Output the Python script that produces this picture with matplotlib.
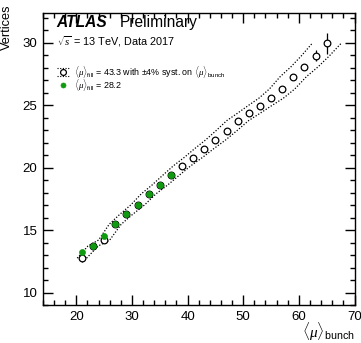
import matplotlib
matplotlib.use("Agg")
import matplotlib.pyplot as plt
from matplotlib.lines import Line2D
from matplotlib.ticker import MultipleLocator
import numpy as np

plt.rcParams['font.family'] = ['Liberation Sans', 'DejaVu Sans']
plt.rcParams['mathtext.fontset'] = 'custom'
plt.rcParams['mathtext.rm'] = 'Liberation Sans'
plt.rcParams['mathtext.it'] = 'Liberation Serif:italic'
plt.rcParams['mathtext.bf'] = 'Liberation Sans:bold'

# High-pileup fill: <mu>_fill = 43.3
mu_high = [21, 23, 25, 27, 29, 31, 33, 35, 37, 39, 41, 43, 45, 47, 49, 51,
           53, 55, 57, 59, 61, 63, 65]
vtx_high = [12.75, 13.72, 14.2, 15.47, 16.27, 17.0, 17.9, 18.6, 19.38, 20.14,
            20.8, 21.52, 22.2, 22.96, 23.76, 24.35, 24.96, 25.55, 26.3, 27.28,
            28.06, 28.96, 29.95]
err_high = [0.3, 0.12, 0.12, 0.1, 0.1, 0.1, 0.1, 0.1, 0.1, 0.1, 0.1, 0.1,
            0.1, 0.1, 0.1, 0.1, 0.12, 0.12, 0.15, 0.2, 0.25, 0.45, 0.84]

# Low-pileup fill: <mu>_fill = 28.2
mu_low = [21, 23, 25, 27, 29, 31, 33, 35, 37]
vtx_low = [13.26, 13.74, 14.56, 15.45, 16.3, 17.0, 17.9, 18.62, 19.4]
err_low = [0.08, 0.06, 0.06, 0.06, 0.06, 0.06, 0.06, 0.06, 0.08]

syst = 0.04  # relative uncertainty on <mu>_bunch

fig = plt.figure(figsize=(3.61, 3.43), dpi=100)
ax = fig.add_axes([0.119, 0.1108, 0.863, 0.8504])

mu_h = np.array(mu_high, dtype=float)
vtx_h = np.array(vtx_high)

# systematic band from shifting <mu>_bunch by +-4%
ax.plot(mu_h * (1 - syst), vtx_h, color='black', ls=(0, (1, 1.4)), lw=0.9)
ax.plot(mu_h * (1 + syst), vtx_h, color='black', ls=(0, (1, 1.4)), lw=0.9)

ax.errorbar(mu_high, vtx_high, yerr=err_high, fmt='o', ms=4.8, mfc='white',
            mec='black', mew=0.9, ecolor='black', elinewidth=0.9, capsize=0,
            zorder=3)
green = '#109a10'
ax.errorbar(mu_low, vtx_low, yerr=err_low, fmt='o', ms=4.3, mfc=green,
            mec=green, mew=0.5, ecolor=green, elinewidth=0.9, capsize=0,
            zorder=4)

ax.set_xlim(14, 70)
ax.set_ylim(9.0, 32.35)
ax.xaxis.set_major_locator(MultipleLocator(10))
ax.xaxis.set_minor_locator(MultipleLocator(2))
ax.yaxis.set_major_locator(MultipleLocator(5))
ax.yaxis.set_minor_locator(MultipleLocator(1))
ax.tick_params(which='both', direction='in', top=True, right=True,
               labelsize=9.5, width=1.0)
ax.tick_params(which='major', length=7, pad=4)
ax.tick_params(which='minor', length=3.8)
for s in ax.spines.values():
    s.set_linewidth(1.0)

ax.set_ylabel('Vertices', fontsize=9.2, loc='top')
ax.yaxis.set_label_coords(-0.097, 1.03)
ax.set_xlabel(r'$\langle\mu\rangle_{\mathrm{bunch}}$', fontsize=11, loc='right',
              labelpad=-1)

fig.text(0.157, 0.921, 'ATLAS', fontsize=11.2, fontweight='bold',
         fontstyle='italic', va='baseline')
fig.text(0.333, 0.921, 'Preliminary', fontsize=11.2, va='baseline')
fig.text(0.157, 0.866, r'$\sqrt{s}$ = 13 TeV, Data 2017', fontsize=7.8,
         va='baseline')

# legend
lx, ly1, ly2 = 0.175, 0.790, 0.751
fig.add_artist(Line2D([lx - 0.018, lx + 0.018], [ly1 + 0.013, ly1 + 0.013],
                      transform=fig.transFigure, color='black', lw=0.8,
                      ls=(0, (1, 1.4))))
fig.add_artist(Line2D([lx - 0.018, lx + 0.018], [ly1 - 0.013, ly1 - 0.013],
                      transform=fig.transFigure, color='black', lw=0.8,
                      ls=(0, (1, 1.4))))
fig.add_artist(Line2D([lx], [ly1], transform=fig.transFigure, marker='o',
                      ms=4.2, mfc='white', mec='black', mew=0.9, ls='none'))
fig.add_artist(Line2D([lx], [ly2], transform=fig.transFigure, marker='o',
                      ms=3.6, mfc=green, mec=green, mew=0.5, ls='none'))
fig.text(0.205, ly1, r'$\langle\mu\rangle_{\mathrm{fill}}$ = 43.3 with $\pm$4% syst. on '
         r'$\langle\mu\rangle_{\mathrm{bunch}}$', fontsize=6.4, va='center')
fig.text(0.205, ly2, r'$\langle\mu\rangle_{\mathrm{fill}}$ = 28.2', fontsize=6.4,
         va='center')

fig.savefig('out.png', dpi=100)
